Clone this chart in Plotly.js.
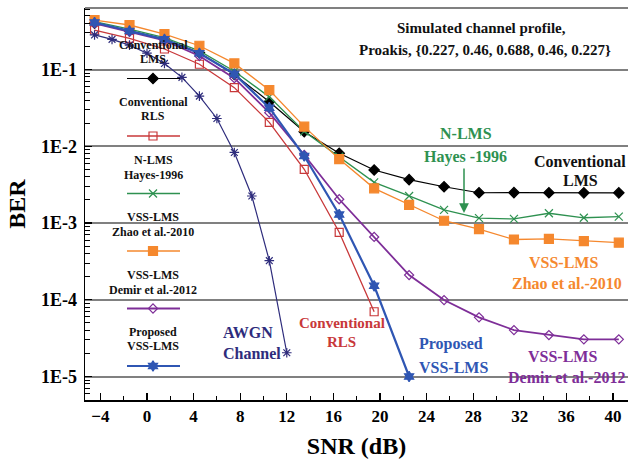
<!DOCTYPE html>
<html><head><meta charset="utf-8">
<script src="https://cdn.plot.ly/plotly-3.0.1.min.js"></script>
<style>html,body{margin:0;padding:0;background:#fff}</style>
</head><body><div id="chart" style="width:629px;height:459px"></div>
<script>
// ---- data ----
const snr = [-4.5, -1.5, 1.5, 4.5, 7.5, 10.5, 13.5, 16.5, 19.5, 22.5, 25.5, 28.5, 31.5, 34.5, 37.5, 40.5];
const lms = [0.40, 0.32, 0.25, 0.165, 0.086, 0.038, 0.0155, 0.0081, 0.0049, 0.00367, 0.00297, 0.00248, 0.00249, 0.00248, 0.00247, 0.00247];
const nlms = [0.42, 0.335, 0.26, 0.175, 0.095, 0.044, 0.0156, 0.0073, 0.00339, 0.00225, 0.00148, 0.00116, 0.00113, 0.00134, 0.00117, 0.00121];
const zhao = [0.44, 0.38, 0.29, 0.204, 0.12, 0.054, 0.018, 0.0068, 0.00283, 0.00172, 0.00107, 0.00083, 0.00061, 0.00062, 0.00058, 0.000554];
const demir = [0.40, 0.31, 0.24, 0.15, 0.077, 0.0274, 0.0077, 0.00204, 0.000658, 0.00021, 0.000099, 0.000059, 0.0000403, 0.0000347, 0.0000305, 0.0000305];
const proposed = [0.41, 0.318, 0.247, 0.163, 0.0874, 0.0318, 0.00746, 0.00129, 0.000152, 0.00001];
const rls = [0.327, 0.255, 0.185, 0.117, 0.058, 0.0205, 0.00501, 0.000757, 0.0000698];
const awgnSnr = [-4.5, -3, -1.5, 0, 1.5, 3, 4.5, 6, 7.5, 9, 10.5, 12];
const awgn = [0.282, 0.247, 0.208, 0.163, 0.12, 0.079, 0.045, 0.023, 0.0083, 0.00225, 0.000323, 0.0000204];
const yTickVals = [1e-1, 1e-2, 1e-3, 1e-4, 1e-5];
const yTickText = ['1E-1', '1E-2', '1E-3', '1E-4', '1E-5'];

const FONT = 'Liberation Serif, Times New Roman, serif';
const C = {lms:'#000000', rls:'#c8383a', nlms:'#2e9150', zhao:'#f5882e', demir:'#7e2e98', prop:'#2f56b3', awgn:'#2e2c7c'};

const series = [
  {name:'Conventional LMS', x:snr, y:lms, color:C.lms, w:1.2, sym:'diamond', size:8, lc:C.lms},
  {name:'Conventional RLS', x:snr.slice(0, rls.length), y:rls, color:C.rls, w:1.3, sym:'square-open', size:8, lc:C.rls},
  {name:'N-LMS Hayes-1996', x:snr, y:nlms, color:C.nlms, w:1.3, sym:'x-thin-open', size:8, lc:C.nlms},
  {name:'VSS-LMS Zhao et al.-2010', x:snr, y:zhao, color:C.zhao, w:1.3, sym:'square', size:9, lc:C.zhao},
  {name:'VSS-LMS Demir et al.-2012', x:snr, y:demir, color:C.demir, w:1.8, sym:'diamond-open', size:7, lc:C.demir},
  {name:'Proposed VSS-LMS', x:snr.slice(0, proposed.length), y:proposed, color:C.prop, w:2.2, sym:'hexagram', size:8, lc:C.prop},
  {name:'AWGN Channel', x:awgnSnr, y:awgn, color:C.awgn, w:1.2, sym:'asterisk-open', size:8, lc:C.awgn}
];

const traces = series.map(s => ({
  type:'scatter', mode:'lines+markers', x:s.x, y:s.y, name:s.name, showlegend:false,
  line:{color:s.lc, width:s.w},
  marker:{symbol:s.sym, size:s.size, color:s.color, line:{color:s.color, width:1.2}}
}));

// ---- custom legend (text above sample), in pixel-space overlay axes ----
const legendItems = [
  {lines:['Conventional','LMS'], ty:[44.5,58.5], sy:78.5, k:0},
  {lines:['Conventional','RLS'], ty:[101.5,116], sy:136, k:1},
  {lines:['N-LMS','Hayes-1996'], ty:[159.5,175], sy:193.5, k:2},
  {lines:['VSS-LMS','Zhao et al.-2010'], ty:[216.5,231.5], sy:251, k:3},
  {lines:['VSS-LMS','Demir et al.-2012'], ty:[274.5,289.5], sy:308.5, k:4},
  {lines:['Proposed','VSS-LMS'], ty:[331.5,346], sy:366, k:5}
];
const legX0 = 127, legX1 = 180, legXc = 153;
const annotations = [];
legendItems.forEach(it => {
  const s = series[it.k];
  traces.push({type:'scatter', mode:'lines', xaxis:'x2', yaxis:'y2', x:[legX0, legX1], y:[it.sy, it.sy],
    line:{color:s.lc, width:s.w}, showlegend:false, hoverinfo:'skip'});
  traces.push({type:'scatter', mode:'markers', xaxis:'x2', yaxis:'y2', x:[legXc], y:[it.sy],
    marker:{symbol:s.sym, size:s.size, color:s.color, line:{color:s.color, width:1.2}}, showlegend:false, hoverinfo:'skip'});
  it.lines.forEach((t, i) => annotations.push({xref:'x2', yref:'y2', x:legXc, y:it.ty[i], text:t, showarrow:false,
    xanchor:'center', yanchor:'middle', font:{family:FONT, size:12, color:'#111', weight:'bold'}}));
});

// ---- in-plot labels ----
const labels = [
  {t:'Simulated channel profile,', x:395, y:28, c:'#111', a:'left', s:15},
  {t:'Proakis, {0.227, 0.46, 0.688, 0.46, 0.227}', x:357, y:50, c:'#111', a:'left', s:15},
  {t:'N-LMS', x:466, y:133, c:C.nlms, a:'center', s:16},
  {t:'Hayes -1996', x:465, y:156.5, c:C.nlms, a:'center', s:16},
  {t:'Conventional', x:580, y:161, c:'#111', a:'center', s:16},
  {t:'LMS', x:580, y:180.5, c:'#111', a:'center', s:16},
  {t:'VSS-LMS', x:563, y:262, c:C.zhao, a:'center', s:16},
  {t:'Zhao et al.-2010', x:567, y:283, c:C.zhao, a:'center', s:16},
  {t:'Proposed', x:451, y:344, c:C.prop, a:'center', s:16},
  {t:'VSS-LMS', x:453, y:367, c:C.prop, a:'center', s:16},
  {t:'VSS-LMS', x:562, y:356, c:C.demir, a:'center', s:16},
  {t:'Demir et al.-2012', x:566, y:377, c:C.demir, a:'center', s:16},
  {t:'Conventional', x:342, y:323, c:C.rls, a:'center', s:15},
  {t:'RLS', x:341, y:342, c:C.rls, a:'center', s:15},
  {t:'AWGN', x:221, y:332, c:C.awgn, a:'left', s:16},
  {t:'Channel', x:221, y:353, c:C.awgn, a:'left', s:16}
];
labels.forEach(l => annotations.push({xref:'x2', yref:'y2', x:l.x, y:l.y, text:l.t, showarrow:false,
  xanchor:l.a, yanchor:'middle', font:{family:FONT, size:l.s, color:l.c, weight:'bold'}}));
// arrow for N-LMS
annotations.push({xref:'x2', yref:'y2', axref:'x2', ayref:'y2', x:464, y:213, ax:464, ay:167, text:'',
  showarrow:true, arrowhead:2, arrowsize:1.3, arrowwidth:1.5, arrowcolor:C.nlms});

const minorVals = [];
for (let e = -6; e <= 0; e++) for (let m = 2; m <= 9; m++) minorVals.push(m * Math.pow(10, e));

const layout = {
  width:629, height:459,
  margin:{l:85, r:1, t:8, b:59},
  paper_bgcolor:'#fff', plot_bgcolor:'#fff',
  showlegend:false,
  xaxis:{range:[-5.32, 41.29], tickmode:'linear', tick0:0, dtick:4, ticks:'inside', ticklen:7, tickwidth:1.2, tickcolor:'#000',
    minor:{ticks:'inside', ticklen:4, dtick:2, tick0:0, tickcolor:'#000', tickwidth:1, showgrid:false},
    showgrid:false, zeroline:false, showline:true, linecolor:'#000', linewidth:1.5,
    tickfont:{family:FONT, size:17, color:'#000', weight:'bold'},
    title:{text:'SNR (dB)', font:{family:FONT, size:24, color:'#000', weight:'bold'}, standoff:12}},
  yaxis:{type:'log', range:[-5.306, -0.1987], tickmode:'array', tickvals:yTickVals, ticktext:yTickText,
    ticks:'inside', ticklen:7, tickcolor:'#000', tickwidth:1.2, ticklabelstandoff:3,
    minor:{tickmode:'array', tickvals:minorVals, ticks:'inside', ticklen:5, tickcolor:'#000', tickwidth:1, showgrid:false},
    showgrid:true, gridcolor:'#808080', gridwidth:2, zeroline:false, showline:true, linecolor:'#000', linewidth:1.5,
    tickfont:{family:FONT, size:18, color:'#000', weight:'bold'},
    title:{text:'BER', font:{family:FONT, size:24, color:'#000', weight:'bold'}, standoff:8}},
  xaxis2:{overlaying:'x', range:[85, 628], visible:false, fixedrange:true},
  yaxis2:{overlaying:'y', range:[400, 8], visible:false, fixedrange:true},
  shapes:[
    {type:'line', xref:'paper', yref:'paper', x0:0, x1:1, y0:1, y1:1, line:{color:'#808080', width:2}},
    {type:'rect', xref:'x2', yref:'y2', x0:96, x1:207, y0:30, y1:382, line:{color:'#ffffff', width:3}, layer:'below'}
  ],
  annotations:annotations
};

Plotly.newPlot('chart', traces, layout, {staticPlot:true, displayModeBar:false});
</script>
</body></html>
